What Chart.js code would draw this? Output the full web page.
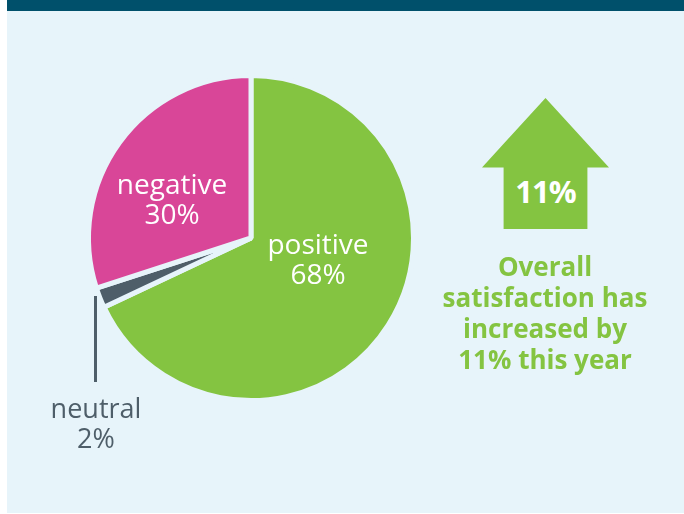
<!DOCTYPE html>
<html>
<head>
<meta charset="utf-8">
<script src="https://cdn.jsdelivr.net/npm/chart.js@4"></script>
<style>
  html, body { margin: 0; padding: 0; background: #ffffff; }
  #card {
    position: absolute; left: 7px; top: 0; width: 677px; height: 513px;
    background: #e7f4fa; overflow: hidden;
    font-family: "Open Sans", sans-serif;
  }
  #topbar { position: absolute; left: 0; top: 0; width: 100%; height: 11px; background: #00506b; }
  #pieChart { position: absolute; left: 0; top: 0; }
  #arrow {
    position: absolute; left: 475px; top: 98px; width: 127px; height: 131px;
    background: #84c441;
    clip-path: polygon(50% 0, 100% 53%, 83% 53%, 83% 100%, 17% 100%, 17% 53%, 0 53%);
  }
  #arrowText {
    position: absolute; left: 475px; top: 171px; width: 127px; text-align: center;
    color: #ffffff; font-weight: 700; font-size: 31px; line-height: 40px; letter-spacing: -1px;
  }
  #note {
    position: absolute; left: 408px; top: 251px; width: 260px; text-align: center;
    color: #84c441; font-weight: 700; font-size: 26px; line-height: 31px;
  }
  #leader { position: absolute; left: 87px; top: 296px; width: 3px; height: 86px; background: #4e5e69; }
</style>
</head>
<body>
<div id="card">
  <div id="topbar"></div>
  <canvas id="pieChart" width="440" height="513"></canvas>
  <div id="leader"></div>
  <div id="arrow"></div>
  <div id="arrowText">11%</div>
  <div id="note">Overall<br>satisfaction has<br>increased by<br>11% this year</div>
</div>
<script>
// Sentiment split (percent)
const categories = ["positive", "neutral", "negative"];
const shares = [68, 2, 30];
const sliceColors = ["#84c441", "#4e5e69", "#d94698"];

// label anchor relative to the pie centre, text colour and size
const labelPlacement = [
  { dx: 67, dy: 23, color: "#ffffff", size: 28 },
  { dx: -155, dy: 187, color: "#4e5e69", size: 27 },
  { dx: -79, dy: -37, color: "#ffffff", size: 28 },
];

const sliceLabels = {
  id: "sliceLabels",
  afterDatasetsDraw(chart) {
    const ctx = chart.ctx;
    const arc = chart.getDatasetMeta(0).data[0];
    ctx.save();
    ctx.textAlign = "center";
    ctx.textBaseline = "middle";
    categories.forEach((name, i) => {
      const p = labelPlacement[i];
      ctx.font = "500 " + p.size + "px 'Open Sans', sans-serif";
      ctx.fillStyle = p.color;
      ctx.fillText(name, arc.x + p.dx, arc.y + p.dy - 15);
      ctx.fillText(shares[i] + "%", arc.x + p.dx, arc.y + p.dy + 15);
    });
    ctx.restore();
  },
};

new Chart(document.getElementById("pieChart").getContext("2d"), {
  type: "pie",
  data: {
    labels: categories,
    datasets: [
      {
        data: shares,
        backgroundColor: sliceColors,
        borderColor: "#e7f4fa",
        borderWidth: 5,
        hoverOffset: 0,
      },
    ],
  },
  options: {
    responsive: false,
    animation: false,
    layout: { padding: { left: 79, top: 73, right: 31, bottom: 110 } },
    plugins: {
      legend: { display: false },
      tooltip: { enabled: false },
    },
  },
  plugins: [sliceLabels],
});
</script>
</body>
</html>
